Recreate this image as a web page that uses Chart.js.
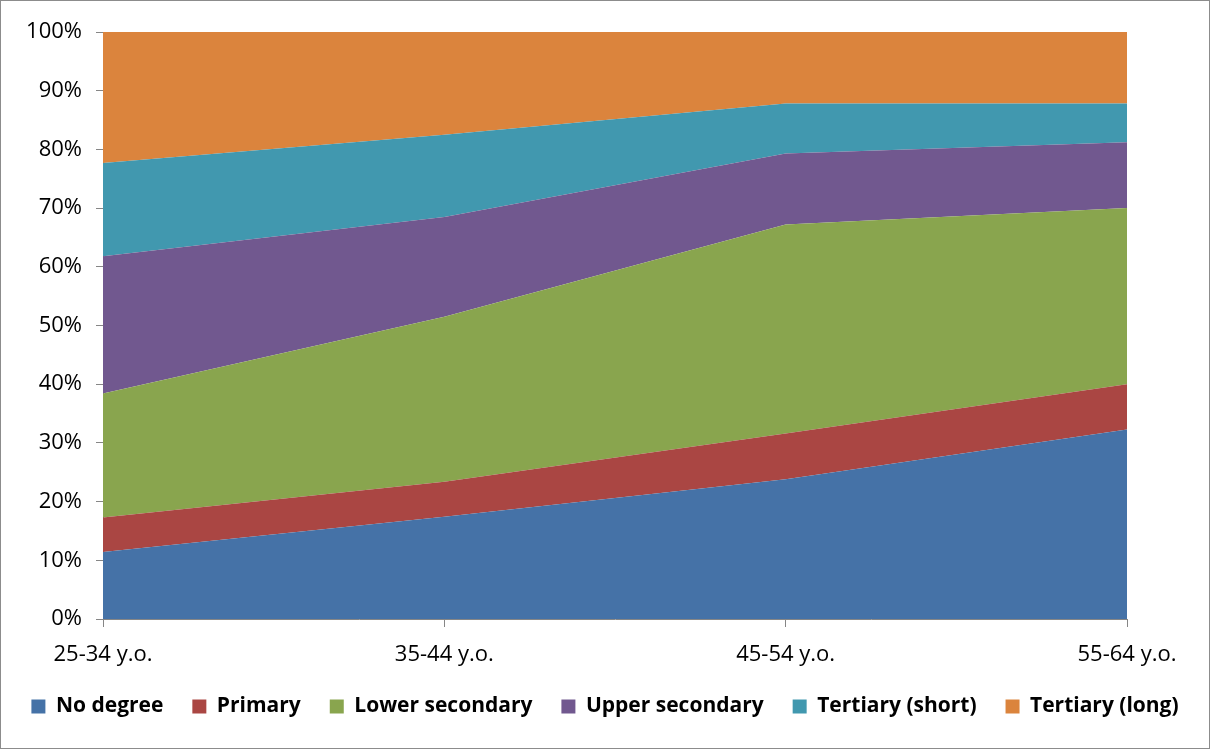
<!DOCTYPE html>
<html lang="en">
<head>
  <meta charset="UTF-8">
  <title>Education by age group</title>
  <script src="https://cdn.jsdelivr.net/npm/chart.js"></script>
  <style>
    html, body {
      margin: 0;
      padding: 0;
      background: #fff;
    }
    .chart-box {
      position: relative;
      width: 1208px;
      height: 747px;
      border: 1px solid #8c8c8c;
    }
  </style>
</head>
<body>

<div class="chart-box">
  <canvas id="eduChart"></canvas>
</div>

<script>
  // Data (share of each age group, %)
  const ageGroups = ['25-34 y.o.', '35-44 y.o.', '45-54 y.o.', '55-64 y.o.'];
  const noDegree = [11.4, 17.4, 23.8, 32.3];
  const primary = [5.9, 6.0, 7.8, 7.7];
  const lowerSecondary = [21.1, 28.1, 35.6, 30.0];
  const upperSecondary = [23.4, 17.0, 12.1, 11.2];
  const tertiaryShort = [15.9, 14.0, 8.5, 6.6];
  const tertiaryLong = [22.3, 17.5, 12.2, 12.2];
  const yTicks = [0, 10, 20, 30, 40, 50, 60, 70, 80, 90, 100];

  const series = [
    { label: 'No degree', data: noDegree, color: '#4572a7' },
    { label: 'Primary', data: primary, color: '#aa4643' },
    { label: 'Lower secondary', data: lowerSecondary, color: '#89a54e' },
    { label: 'Upper secondary', data: upperSecondary, color: '#71588f' },
    { label: 'Tertiary (short)', data: tertiaryShort, color: '#4198af' },
    { label: 'Tertiary (long)', data: tertiaryLong, color: '#db843d' }
  ];

  const axisGrey = '#868686';
  const font = "'Open Sans', 'Liberation Sans', sans-serif";

  const ctx = document.getElementById('eduChart').getContext('2d');
  new Chart(ctx, {
    type: 'line',
    data: {
      labels: ageGroups,
      datasets: series.map((s, i) => ({
        label: s.label,
        data: s.data,
        backgroundColor: s.color,
        borderColor: s.color,
        borderWidth: 0,
        pointRadius: 0,
        tension: 0,
        fill: i === 0 ? 'origin' : '-1'
      }))
    },
    options: {
      responsive: true,
      maintainAspectRatio: false,
      animation: false,
      layout: {
        padding: { top: 31, right: 0, left: 0, bottom: 21 }
      },
      plugins: {
        tooltip: { enabled: false },
        legend: {
          position: 'bottom',
          labels: {
            color: '#000',
            boxWidth: 14,
            boxHeight: 14,
            padding: 29,
            font: { family: font, size: 21, weight: 'bold' }
          }
        }
      },
      scales: {
        x: {
          offset: false,
          grid: {
            display: true,
            drawOnChartArea: false,
            drawTicks: true,
            tickLength: 8,
            color: axisGrey
          },
          border: { color: axisGrey, width: 1 },
          ticks: {
            color: '#000',
            padding: 15,
            maxRotation: 0,
            font: { family: font, size: 22 }
          },
          afterFit: scale => { scale.height = 48; }
        },
        y: {
          stacked: true,
          min: 0,
          max: 100,
          afterBuildTicks: scale => {
            scale.ticks = yTicks.map(v => ({ value: v }));
          },
          grid: {
            display: true,
            drawOnChartArea: false,
            drawTicks: true,
            tickLength: 7,
            color: axisGrey
          },
          border: { color: axisGrey, width: 1 },
          ticks: {
            color: '#000',
            padding: 14,
            font: { family: font, size: 22 },
            callback: v => v + '%'
          },
          afterFit: scale => { scale.width = 102; }
        },
        // empty right-hand axis, only to keep the plot clear of the right edge
        yRight: {
          position: 'right',
          min: 0,
          max: 100,
          grid: { display: false },
          border: { display: false },
          ticks: { display: false },
          afterFit: scale => { scale.width = 82; }
        }
      }
    }
  });
</script>

</body>
</html>
